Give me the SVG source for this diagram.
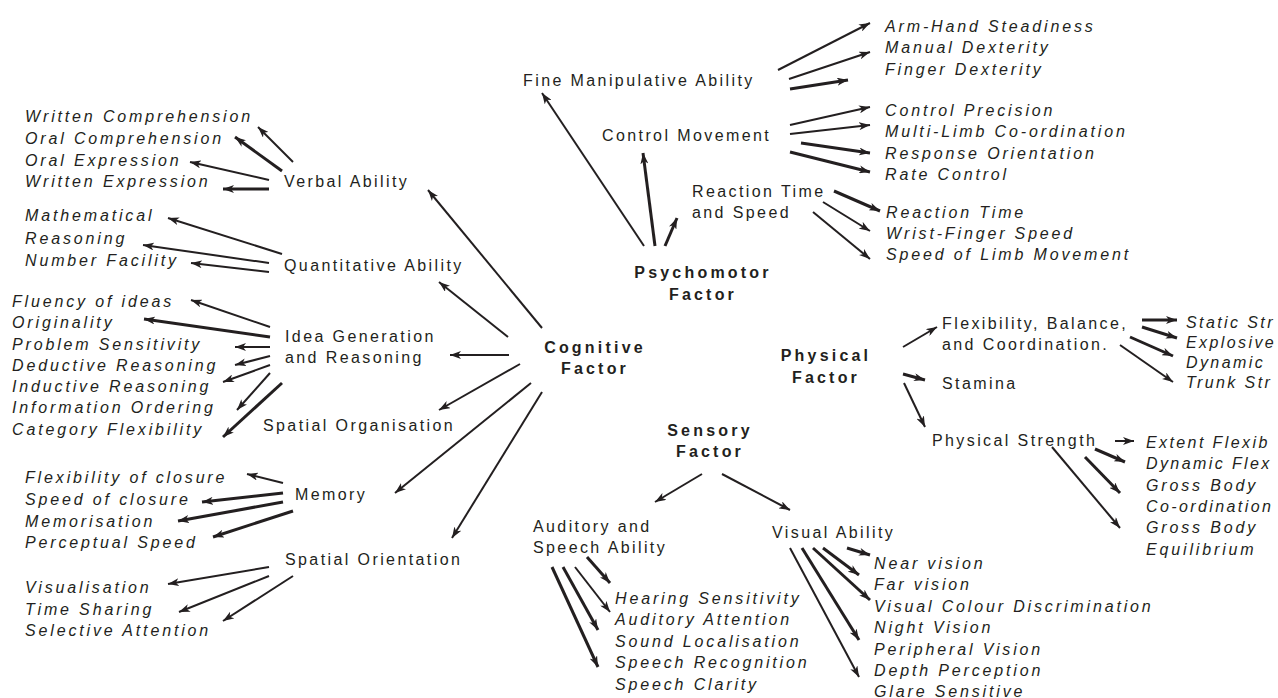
<svg xmlns="http://www.w3.org/2000/svg" width="1278" height="698" viewBox="0 0 1278 698">
<defs>
<marker id="ah" markerUnits="userSpaceOnUse" markerWidth="12" markerHeight="8" refX="11" refY="4" orient="auto">
<path d="M0,0 L11,4 L0,8 L3,4 Z" fill="#231f20"/>
</marker>
<style>
text{font-family:"Liberation Sans",Arial,sans-serif;font-size:16px;fill:#231f20}
.n{letter-spacing:2.4px}
.i{font-style:italic;letter-spacing:2.85px}
.e{letter-spacing:2.4px}
.b{font-weight:bold;letter-spacing:3.2px;text-anchor:middle}
.c{stroke:#231f20;stroke-width:2;fill:none;marker-end:url(#ah)}
.t{stroke:#231f20;stroke-width:3;fill:none;marker-end:url(#ah)}
</style>
</defs>
<rect width="1278" height="698" fill="#fff"/>

<g id="cognitive-factor"><text class="b" x="595" y="353">Cognitive</text><text class="b" x="595" y="374">Factor</text></g>
<g id="psychomotor-factor"><text class="b" x="703" y="278">Psychomotor</text><text class="b" x="703" y="300">Factor</text></g>
<g id="physical-factor"><text class="b" x="826" y="361">Physical</text><text class="b" x="826" y="383">Factor</text></g>
<g id="sensory-factor"><text class="b" x="710" y="436">Sensory</text><text class="b" x="710" y="457">Factor</text></g>

<g id="verbal-ability"><text class="n" x="284" y="187">Verbal Ability</text></g>
<g id="verbal-items">
<text class="i" x="25" y="122">Written Comprehension</text>
<text class="i" x="25" y="144">Oral Comprehension</text>
<text class="i" x="25" y="166">Oral Expression</text>
<text class="i" x="25" y="187">Written Expression</text>
</g>
<g id="quantitative-ability"><text class="n" x="284" y="271">Quantitative Ability</text></g>
<g id="quantitative-items">
<text class="i" x="25" y="221">Mathematical</text>
<text class="i" x="25" y="244">Reasoning</text>
<text class="i" x="25" y="266">Number Facility</text>
</g>
<g id="idea-generation"><text class="n" x="285" y="342">Idea Generation</text><text class="n" x="285" y="363">and Reasoning</text></g>
<g id="idea-items">
<text class="i" x="12" y="307">Fluency of ideas</text>
<text class="i" x="12" y="328">Originality</text>
<text class="i" x="12" y="350">Problem Sensitivity</text>
<text class="i" x="12" y="371">Deductive Reasoning</text>
<text class="i" x="12" y="392">Inductive Reasoning</text>
<text class="i" x="12" y="413">Information Ordering</text>
<text class="i" x="12" y="435">Category Flexibility</text>
</g>
<g id="spatial-organisation"><text class="n" x="263" y="431">Spatial Organisation</text></g>
<g id="memory"><text class="n" x="295" y="500">Memory</text></g>
<g id="memory-items">
<text class="i" x="25" y="483">Flexibility of closure</text>
<text class="i" x="25" y="505">Speed of closure</text>
<text class="i" x="25" y="527">Memorisation</text>
<text class="i" x="25" y="548">Perceptual Speed</text>
</g>
<g id="spatial-orientation"><text class="n" x="285" y="565">Spatial Orientation</text></g>
<g id="spatial-orientation-items">
<text class="i" x="25" y="593">Visualisation</text>
<text class="i" x="25" y="615">Time Sharing</text>
<text class="i" x="25" y="636">Selective Attention</text>
</g>

<g id="fine-manipulative"><text class="n" x="523" y="86">Fine Manipulative Ability</text></g>
<g id="fine-items">
<text class="i" x="885" y="32">Arm-Hand Steadiness</text>
<text class="i" x="885" y="53">Manual Dexterity</text>
<text class="i" x="885" y="75">Finger Dexterity</text>
</g>
<g id="control-movement"><text class="n" x="602" y="141">Control Movement</text></g>
<g id="control-items">
<text class="i" x="885" y="116">Control Precision</text>
<text class="i" x="885" y="137">Multi-Limb Co-ordination</text>
<text class="i" x="885" y="159">Response Orientation</text>
<text class="i" x="885" y="180">Rate Control</text>
</g>
<g id="reaction-time"><text class="n" x="692" y="197">Reaction Time</text><text class="n" x="692" y="218">and Speed</text></g>
<g id="reaction-items">
<text class="i" x="886" y="218">Reaction Time</text>
<text class="i" x="886" y="239">Wrist-Finger Speed</text>
<text class="i" x="886" y="260">Speed of Limb Movement</text>
</g>

<g id="flexibility-balance"><text class="n" x="942" y="329">Flexibility, Balance,</text><text class="n" x="942" y="350">and Coordination.</text></g>
<g id="flexibility-items">
<text class="i e" x="1186" y="328">Static Str</text>
<text class="i e" x="1186" y="348">Explosive</text>
<text class="i e" x="1186" y="368">Dynamic</text>
<text class="i e" x="1186" y="388">Trunk Str</text>
</g>
<g id="stamina"><text class="n" x="942" y="389">Stamina</text></g>
<g id="physical-strength"><text class="n" x="932" y="446">Physical Strength</text></g>
<g id="strength-items">
<text class="i e" x="1146" y="448">Extent Flexib</text>
<text class="i e" x="1146" y="469">Dynamic Flex</text>
<text class="i" x="1146" y="491">Gross Body</text>
<text class="i e" x="1146" y="512">Co-ordination</text>
<text class="i" x="1146" y="533">Gross Body</text>
<text class="i" x="1146" y="555">Equilibrium</text>
</g>

<g id="auditory-speech"><text class="n" x="533" y="532">Auditory and</text><text class="n" x="533" y="553">Speech Ability</text></g>
<g id="auditory-items">
<text class="i" x="615" y="604">Hearing Sensitivity</text>
<text class="i" x="615" y="625">Auditory Attention</text>
<text class="i" x="615" y="647">Sound Localisation</text>
<text class="i" x="615" y="668">Speech Recognition</text>
<text class="i" x="615" y="690">Speech Clarity</text>
</g>
<g id="visual-ability"><text class="n" x="772" y="538">Visual Ability</text></g>
<g id="visual-items">
<text class="i" x="874" y="569">Near vision</text>
<text class="i" x="874" y="590">Far vision</text>
<text class="i" x="874" y="612">Visual Colour Discrimination</text>
<text class="i" x="874" y="633">Night Vision</text>
<text class="i" x="874" y="655">Peripheral Vision</text>
<text class="i" x="874" y="676">Depth Perception</text>
<text class="i" x="874" y="697">Glare Sensitive</text>
</g>

<g id="connectors">
<line class="c" x1="542" y1="328" x2="428" y2="190"/>
<line class="c" x1="508" y1="337" x2="439" y2="282"/>
<line class="c" x1="509" y1="355" x2="450" y2="355"/>
<line class="c" x1="520" y1="364" x2="439" y2="410"/>
<line class="c" x1="531" y1="383" x2="395" y2="493"/>
<line class="c" x1="542" y1="392" x2="452" y2="538"/>
<line class="c" x1="293" y1="162" x2="258" y2="127"/>
<line class="t" x1="282" y1="171" x2="235" y2="137"/>
<line class="c" x1="269" y1="180" x2="190" y2="162"/>
<line class="t" x1="269" y1="189" x2="223" y2="189"/>
<line class="c" x1="282" y1="254" x2="168" y2="218"/>
<line class="c" x1="269" y1="263" x2="143" y2="245"/>
<line class="c" x1="269" y1="272" x2="191" y2="263"/>
<line class="c" x1="270" y1="327" x2="191" y2="300"/>
<line class="t" x1="270" y1="337" x2="144" y2="319"/>
<line class="c" x1="270" y1="347" x2="235" y2="347"/>
<line class="c" x1="270" y1="356" x2="235" y2="365"/>
<line class="c" x1="270" y1="365" x2="223" y2="382"/>
<line class="c" x1="270" y1="373" x2="237" y2="410"/>
<line class="t" x1="282" y1="383" x2="223" y2="437"/>
<line class="c" x1="283" y1="483" x2="247" y2="474"/>
<line class="t" x1="283" y1="493" x2="202" y2="502"/>
<line class="t" x1="283" y1="502" x2="178" y2="521"/>
<line class="t" x1="293" y1="511" x2="213" y2="537"/>
<line class="c" x1="269" y1="567" x2="168" y2="584"/>
<line class="c" x1="269" y1="576" x2="179" y2="612"/>
<line class="c" x1="293" y1="576" x2="223" y2="621"/>
<line class="c" x1="644" y1="246" x2="542" y2="93"/>
<line class="t" x1="655" y1="246" x2="643" y2="153"/>
<line class="t" x1="665" y1="246" x2="677" y2="218"/>
<line class="c" x1="778" y1="70" x2="870" y2="23"/>
<line class="c" x1="789" y1="79" x2="870" y2="52"/>
<line class="t" x1="790" y1="89" x2="848" y2="80"/>
<line class="c" x1="790" y1="125" x2="870" y2="107"/>
<line class="c" x1="790" y1="134" x2="870" y2="125"/>
<line class="t" x1="801" y1="143" x2="870" y2="153"/>
<line class="t" x1="790" y1="152" x2="870" y2="172"/>
<line class="t" x1="834" y1="191" x2="880" y2="211"/>
<line class="c" x1="823" y1="202" x2="870" y2="231"/>
<line class="c" x1="813" y1="212" x2="870" y2="259"/>
<line class="c" x1="903" y1="347" x2="937" y2="327"/>
<line class="t" x1="903" y1="374" x2="925" y2="380"/>
<line class="c" x1="904" y1="383" x2="925" y2="427"/>
<line class="t" x1="1142" y1="320" x2="1177" y2="320"/>
<line class="t" x1="1142" y1="327" x2="1177" y2="338"/>
<line class="t" x1="1130" y1="337" x2="1173" y2="356"/>
<line class="c" x1="1120" y1="345" x2="1173" y2="382"/>
<line class="c" x1="1115" y1="441" x2="1134" y2="441"/>
<line class="t" x1="1095" y1="449" x2="1125" y2="462"/>
<line class="t" x1="1085" y1="457" x2="1120" y2="493"/>
<line class="c" x1="1052" y1="447" x2="1120" y2="528"/>
<line class="c" x1="702" y1="474" x2="655" y2="502"/>
<line class="c" x1="722" y1="474" x2="790" y2="510"/>
<line class="t" x1="587" y1="557" x2="610" y2="583"/>
<line class="c" x1="575" y1="567" x2="610" y2="612"/>
<line class="t" x1="563" y1="567" x2="598" y2="630"/>
<line class="t" x1="552" y1="567" x2="598" y2="667"/>
<line class="t" x1="847" y1="548" x2="870" y2="555"/>
<line class="t" x1="823" y1="548" x2="859" y2="575"/>
<line class="t" x1="813" y1="548" x2="870" y2="600"/>
<line class="t" x1="802" y1="548" x2="859" y2="640"/>
<line class="c" x1="790" y1="548" x2="859" y2="677"/>
</g>
</svg>
